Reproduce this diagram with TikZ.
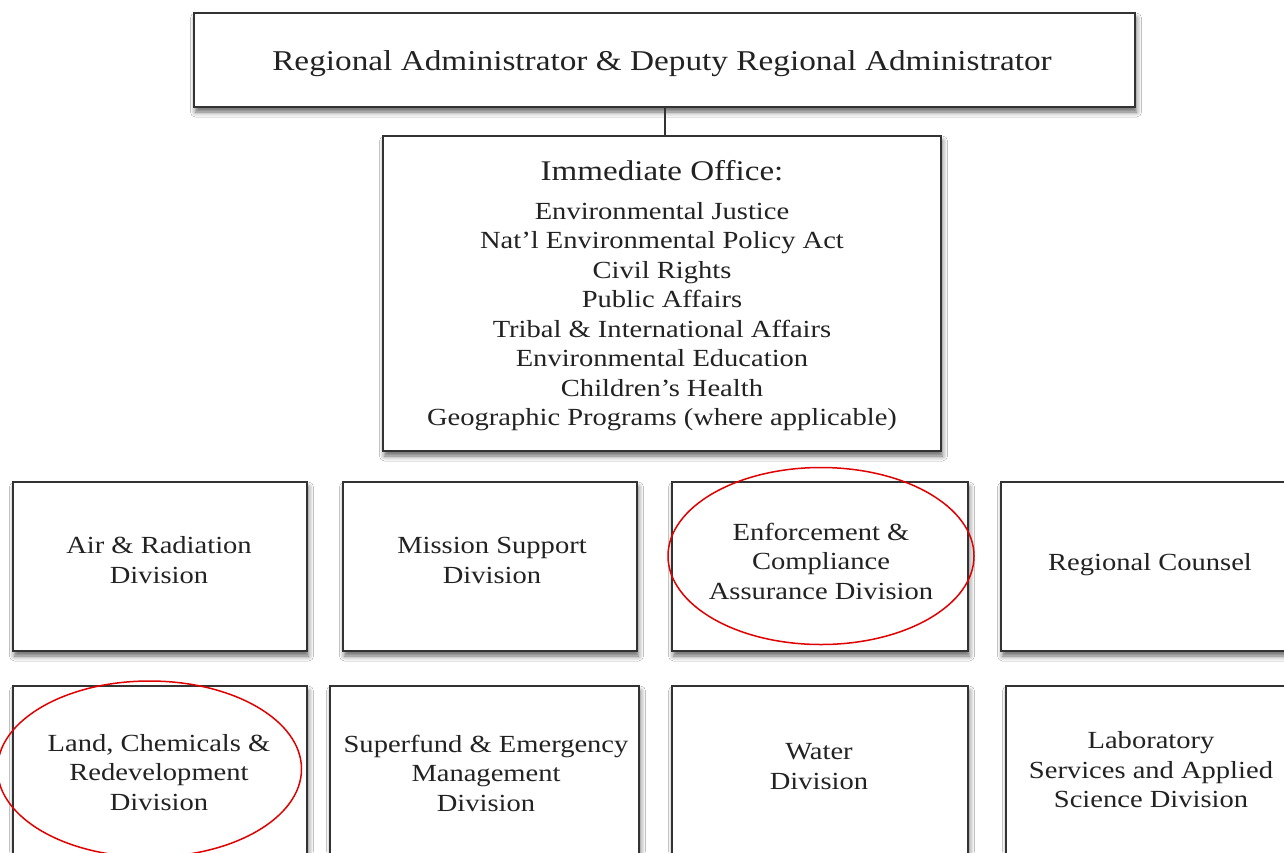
\documentclass[tikz,border=0pt]{standalone}
\usepackage{fontspec}
\setmainfont{Liberation Serif}[FakeStretch=1.16]
\usetikzlibrary{shapes.geometric,shadows.blur}
\definecolor{ink}{HTML}{222222}
\definecolor{edgegray}{HTML}{333333}
\definecolor{redline}{HTML}{E00000}
\begin{document}
\begin{tikzpicture}[x=1pt,y=-1pt,
  box/.style={draw=edgegray, line width=2pt, fill=white, inner sep=0pt,
    blur shadow={shadow xshift=1.5pt, shadow yshift=-5pt, shadow blur radius=5pt, shadow opacity=60}},
  txt/.style={text=ink, align=center, inner sep=0pt, font=\fontsize{24.6}{29.5}\selectfont},
  ring/.style={ellipse, draw=redline, line width=1.5pt, inner sep=0pt}
]
\useasboundingbox (0,0) rectangle (1284,852);
\clip (0,0) rectangle (1284,852);
\fill[white] (0,0) rectangle (1284,852);

% boxes
\node[box, minimum width=941pt, minimum height=94pt] (top) at (664.5,60) {};
\node[box, minimum width=558pt, minimum height=315pt] (imm) at (662,293.5) {};
\draw[edgegray, line width=2pt] (top.south) -- (top.south |- imm.north);

\node[box, minimum width=294pt, minimum height=169pt] (air) at (160,566.5) {};
\node[box, minimum width=294pt, minimum height=169pt] (mis) at (490,566.5) {};
\node[box, minimum width=296pt, minimum height=169pt] (enf) at (820,566.5) {};
\node[box, minimum width=298pt, minimum height=169pt] (rc) at (1150,566.5) {};

\node[box, minimum width=294pt, minimum height=168pt] (land) at (160,770) {};
\node[box, minimum width=309pt, minimum height=168pt] (sup) at (484.5,770) {};
\node[box, minimum width=296pt, minimum height=168pt] (wat) at (820,770) {};
\node[box, minimum width=290pt, minimum height=168pt] (lab) at (1151,770) {};

% texts
\node[txt, font=\fontsize{28.7}{34}\selectfont] (topT) at (662,64)
  {Regional Administrator \& Deputy Regional Administrator};
\node[txt] (immT) at (662,295.5)
  {{\fontsize{28.5}{29.5}\selectfont Immediate Office:}\\[9.5pt]
   Environmental Justice\\
   Nat’l Environmental Policy Act\\
   Civil Rights\\
   Public Affairs\\
   Tribal \& International Affairs\\
   Environmental Education\\
   Children’s Health\\
   Geographic Programs (where applicable)};

\node[txt] (airT) at (159,560) {Air \& Radiation\\Division};
\node[txt] (misT) at (492,560.5) {Mission Support\\Division};
\node[txt] (enfT) at (821,561) {Enforcement \&\\Compliance\\Assurance Division};
\node[txt] (rcT) at (1150,564.5) {Regional Counsel};

\node[txt] (landT) at (159,772.5) {Land, Chemicals \&\\Redevelopment\\Division};
\node[txt] (supT) at (486,773) {Superfund \& Emergency\\Management\\Division};
\node[txt] (watT) at (819,766.5) {Water\\Division};
\node[txt] (labT) at (1151,770) {Laboratory\\Services and Applied\\Science Division};

% red highlight ellipses
\node[ring, minimum width=306pt, minimum height=177pt] (ringenf) at (821,556) {};
\node[ring, minimum width=304pt, minimum height=176pt] (ringland) at (149.5,769) {};
\end{tikzpicture}
\end{document}
